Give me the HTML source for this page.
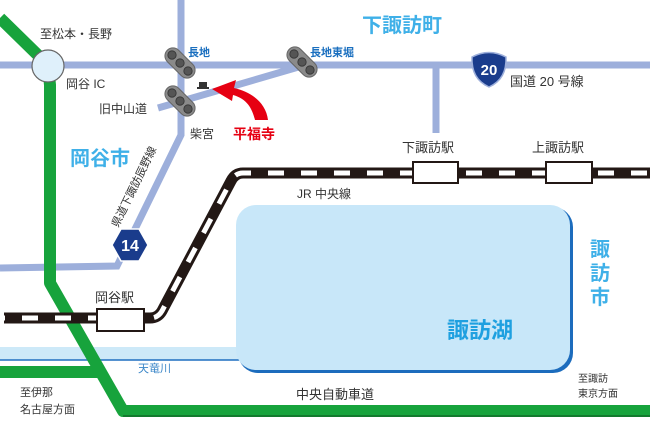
<!DOCTYPE html>
<html><head><meta charset="utf-8"><style>
html,body{margin:0;padding:0;background:#fff;}
svg{display:block;font-family:"Liberation Sans","Noto Sans CJK JP",sans-serif;}
</style></head><body>
<svg width="650" height="442" viewBox="0 0 650 442">
<!-- river -->
<rect x="0" y="347" width="250" height="13" fill="#cde9f8"/>
<line x1="0" y1="360" x2="250" y2="360" stroke="#1f6fc0" stroke-width="1.5"/>
<!-- lake -->
<rect x="238" y="207" width="335" height="166" rx="20" fill="#1c6cbd"/>
<rect x="236" y="205" width="334" height="165" rx="20" fill="#c8e7f9"/>
<!-- roads -->
<g stroke="#9dafdb" stroke-width="7" fill="none">
<line x1="0" y1="65" x2="650" y2="65"/>
<polyline points="181,0 181,135 117,266 0,268"/>
<line x1="158" y1="108" x2="302" y2="66"/>
<line x1="436" y1="65" x2="436" y2="133"/>
</g>
<!-- traffic lights -->
<g fill="#8a8a8a" stroke="#666" stroke-width="1">
<g transform="translate(180,63) rotate(45)"><rect x="-18" y="-8" width="36" height="16" rx="8"/></g>
<g transform="translate(180,101) rotate(45)"><rect x="-18" y="-8" width="36" height="16" rx="8"/></g>
<g transform="translate(302,62) rotate(45)"><rect x="-18" y="-8" width="36" height="16" rx="8"/></g>
</g>
<g fill="#555" stroke="#333" stroke-width="0.8">
<circle cx="172" cy="55" r="4.2"/><circle cx="180" cy="63" r="4.2"/><circle cx="188" cy="71" r="4.2"/>
<circle cx="172" cy="93" r="4.2"/><circle cx="180" cy="101" r="4.2"/><circle cx="188" cy="109" r="4.2"/>
<circle cx="294" cy="54" r="4.2"/><circle cx="302" cy="62" r="4.2"/><circle cx="310" cy="70" r="4.2"/>
</g>
<!-- temple icon -->
<rect x="199" y="82" width="8" height="5" fill="#333"/><rect x="197" y="87" width="12" height="2" fill="#333"/>
<!-- red arrow -->
<path d="M268,120 C266,103 252,92 234,88 L236,80 L212,89 L232,101 L233,95 C247,99 252,108 255,120 Z" fill="#e60012"/>
<!-- expressway -->
<g stroke="#17a33c" stroke-width="12" fill="none" stroke-linejoin="round">
<polyline points="0,18 48,65 50,85 50,283 123,411 650,411"/>
<line x1="0" y1="372" x2="100" y2="372"/>
</g>
<line x1="123" y1="416" x2="650" y2="416" stroke="#127a2d" stroke-width="2"/>
<circle cx="48" cy="66" r="16" fill="#dff0fb" stroke="#666" stroke-width="1.2"/>
<!-- JR line -->
<path d="M4,318 L150,318 Q158,318 162,311 L231,181 Q235,173 243,173 L650,173" stroke="#231815" stroke-width="11" fill="none"/>
<path d="M4,318 L150,318 Q158,318 162,311 L231,181 Q235,173 243,173 L650,173" stroke="#fff" stroke-width="5" fill="none" stroke-dasharray="16,17" stroke-dashoffset="-18"/>
<g fill="#fff" stroke="#231815" stroke-width="2">
<rect x="97" y="309" width="47" height="22"/>
<rect x="413" y="162" width="45" height="21"/>
<rect x="546" y="162" width="46" height="21"/>
</g>
<!-- route shields -->
<polygon points="112,245 121,229 139,229 148,245 139,261 121,261" fill="#1a3c8c" stroke="#fff" stroke-width="1.5"/>
<text x="130" y="251" font-size="16" font-weight="bold" fill="#fff" text-anchor="middle">14</text>
<path d="M472,57 Q489,48 506,57 Q507,79 489,87 Q471,79 472,57 Z" fill="#1a3c8c" stroke="#9dafdb" stroke-width="1.5"/>
<text x="489" y="75" font-size="15" font-weight="bold" fill="#fff" text-anchor="middle">20</text>
<!-- labels -->
<g fill="#333" font-size="12">
<text x="40" y="38">至松本・長野</text>
<text x="66" y="88">岡谷 IC</text>
<text x="99" y="113">旧中山道</text>
<text x="190" y="138">柴宮</text>
<text x="510" y="86" font-size="13">国道 20 号線</text>
<text x="402" y="152" font-size="13">下諏訪駅</text>
<text x="532" y="152" font-size="13">上諏訪駅</text>
<text x="297" y="198">JR 中央線</text>
<text x="95" y="302" font-size="13">岡谷駅</text>
<text x="296" y="399" font-size="13">中央自動車道</text>
<text x="20" y="396" font-size="11">至伊那</text>
<text x="20" y="413" font-size="11">名古屋方面</text>
<text x="578" y="382" font-size="10">至諏訪</text>
<text x="578" y="397" font-size="10">東京方面</text>
</g>
<text x="138" y="372" font-size="11" fill="#3a86c8">天竜川</text>
<text x="118" y="228" font-size="11" fill="#333" transform="rotate(-64 118 228)">県道下諏訪辰野線</text>
<g fill="#1a6fbf" font-size="11" font-weight="bold">
<text x="188" y="56">長地</text>
<text x="310" y="56">長地東堀</text>
</g>
<text x="233" y="139" font-size="14" font-weight="bold" fill="#e60012">平福寺</text>
<g fill="#3fb0e8" font-weight="bold">
<text x="362" y="32" font-size="20">下諏訪町</text>
<text x="70" y="165" font-size="20">岡谷市</text>
<text x="447" y="338" font-size="22" fill="#1fa0e0">諏訪湖</text>
<text x="590" y="256" font-size="20">諏</text>
<text x="590" y="280" font-size="20">訪</text>
<text x="590" y="304" font-size="20">市</text>
</g>
</svg>
</body></html>
